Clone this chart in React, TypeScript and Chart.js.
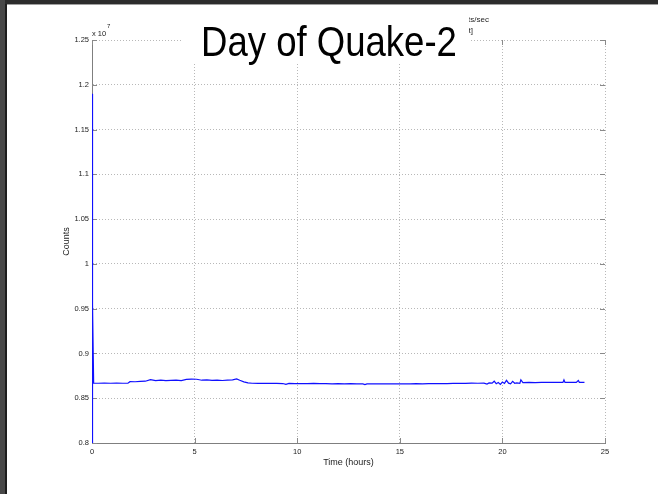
import React, { useEffect, useRef } from "react";
import { Chart, registerables } from "chart.js";

Chart.register(...registerables);

// ---- data (hours since start, raw counts) ----
const hours: number[] = [
  0, 0.01, 0.04, 0.08, 0.3, 0.6, 0.9, 1.2, 1.5, 1.75,
  1.85, 2.1, 2.35, 2.6, 2.85, 3.1, 3.35, 3.6, 3.85, 4.1,
  4.35, 4.6, 4.85, 5.1, 5.35, 5.6, 5.85, 6.1, 6.35, 6.6,
  6.85, 7.05, 7.2, 7.4, 7.6, 7.8, 8.1, 8.4, 8.7, 9.0,
  9.3, 9.45, 9.6, 9.9, 10.2, 10.5, 10.8, 11.1, 11.4, 11.7,
  12.0, 12.3, 12.6, 12.9, 13.2, 13.3, 13.4, 13.7, 14.0, 14.3,
  14.6, 14.9, 15.2, 15.5, 15.8, 16.1, 16.4, 16.7, 17.0, 17.3,
  17.6, 17.9, 18.2, 18.5, 18.8, 19.1, 19.25, 19.35, 19.5, 19.6,
  19.7, 19.8, 19.9, 20.0, 20.1, 20.2, 20.3, 20.4, 20.5, 20.6,
  20.7, 20.85, 20.9, 21.0, 21.3, 21.6, 21.9, 22.2, 22.5, 22.8,
  22.95, 23.0, 23.05, 23.3, 23.6, 23.7, 23.75, 24.0,
];

const counts: number[] = [
  8000000, 11900000, 9550000, 8668000, 8667000, 8668000, 8667000, 8668000, 8667000, 8668000,
  8685000, 8684000, 8688000, 8690000, 8708000, 8697000, 8703000, 8696000, 8699000, 8702000,
  8696000, 8710000, 8714000, 8712000, 8701000, 8704000, 8699000, 8703000, 8698000, 8702000,
  8705000, 8716000, 8700000, 8683000, 8672000, 8667000, 8666000, 8667000, 8665000, 8666000,
  8664000, 8654000, 8665000, 8663000, 8664000, 8663000, 8665000, 8662000, 8663000, 8661000,
  8662000, 8661000, 8662000, 8661000, 8660000, 8652000, 8660000, 8661000, 8660000, 8661000,
  8660000, 8661000, 8660000, 8661000, 8662000, 8661000, 8663000, 8662000, 8664000, 8663000,
  8665000, 8667000, 8666000, 8668000, 8667000, 8669000, 8658000, 8671000, 8668000, 8690000,
  8662000, 8675000, 8655000, 8680000, 8665000, 8700000, 8668000, 8660000, 8688000, 8667000,
  8672000, 8666000, 8705000, 8674000, 8676000, 8675000, 8677000, 8676000, 8677000, 8676000,
  8677000, 8706000, 8677000, 8678000, 8677000, 8698000, 8678000, 8677000,
];

const xTickValues: number[] = [0, 5, 10, 15, 20, 25];
const yMin = 8000000;
const yMax = 12500000;
const yStep = 500000;

const titleText = "Day of Quake-2";
const xTitle = "Time (hours)";
const yTitle = "Counts";
const exponentBase = "x 10";
const exponentPower = "7";
const legendRemnants: string[] = ["counts/sec", "[fit]"];

const FONT = "'Liberation Sans', Arial, Helvetica, sans-serif";

const decorPlugin = {
  id: "decor",
  beforeDraw(chart: any) {
    const { ctx, width, height } = chart;
    ctx.save();
    ctx.fillStyle = "#ffffff";
    ctx.fillRect(0, 0, width, height);
    ctx.fillStyle = "#2c2c2c";
    ctx.fillRect(0, 0, width, 4);
    ctx.fillStyle = "#a0a0a0";
    ctx.fillRect(7, 4, width - 7, 1);
    ctx.fillStyle = "#484848";
    ctx.fillRect(0, 0, 5, height);
    ctx.fillStyle = "#1e1e1e";
    ctx.fillRect(5, 4, 2, height - 4);
    ctx.restore();
  },
  beforeDatasetsDraw(chart: any) {
    const { ctx, chartArea } = chart;
    const xs = chart.scales.x;
    const ys = chart.scales.y;
    ctx.save();
    ctx.strokeStyle = "#8a8a8a";
    ctx.lineWidth = 1;
    ctx.beginPath();
    for (const v of xTickValues) {
      const px = Math.round(xs.getPixelForValue(v)) + 0.5;
      ctx.moveTo(px, chartArea.bottom);
      ctx.lineTo(px, chartArea.bottom - 5);
      ctx.moveTo(px, chartArea.top);
      ctx.lineTo(px, chartArea.top + 5);
    }
    for (let v = yMin; v <= yMax; v += yStep) {
      const py = Math.round(ys.getPixelForValue(v)) + 0.5;
      ctx.moveTo(chartArea.left, py);
      ctx.lineTo(chartArea.left + 5, py);
      ctx.moveTo(chartArea.right, py);
      ctx.lineTo(chartArea.right - 5, py);
    }
    ctx.stroke();
    ctx.restore();
  },
  afterDraw(chart: any) {
    const { ctx, chartArea } = chart;
    ctx.save();
    // exponent label
    ctx.fillStyle = "#222";
    ctx.textBaseline = "alphabetic";
    ctx.textAlign = "left";
    ctx.font = `7.5px ${FONT}`;
    ctx.fillText(exponentBase, chartArea.left, 36);
    ctx.font = `6px ${FONT}`;
    ctx.fillText(exponentPower, chartArea.left + 15, 28);
    // white box behind title
    ctx.fillStyle = "#ffffff";
    ctx.fillRect(183, 8, 286, 55);
    // legend remnants (clipped)
    ctx.save();
    ctx.beginPath();
    ctx.rect(469, 8, 60, 30);
    ctx.clip();
    ctx.fillStyle = "#222";
    ctx.font = `8px ${FONT}`;
    ctx.textAlign = "right";
    ctx.fillText(legendRemnants[0], 489, 22);
    ctx.fillText(legendRemnants[1], 473, 33);
    ctx.restore();
    // title
    ctx.fillStyle = "#000";
    ctx.textAlign = "left";
    ctx.font = `42px ${FONT}`;
    ctx.translate(201, 56);
    ctx.scale(0.87, 1);
    ctx.fillText(titleText, 0, 0);
    ctx.restore();
  },
};

export default function App() {
  const canvasRef = useRef<HTMLCanvasElement | null>(null);

  useEffect(() => {
    const canvas = canvasRef.current;
    if (!canvas) return;
    const points = hours.map((h, i) => ({ x: h, y: counts[i] }));
    const chart = new Chart(canvas, {
      type: "line",
      data: {
        datasets: [
          {
            data: points,
            borderColor: "#1010ff",
            borderWidth: 1.2,
            pointRadius: 0,
            tension: 0,
            fill: false,
          },
        ],
      },
      options: {
        animation: false,
        responsive: false,
        devicePixelRatio: 1,
        layout: { padding: { left: 0, top: 40, right: 53, bottom: 21 } },
        plugins: {
          legend: { display: false },
          title: { display: false },
          tooltip: { enabled: false },
        },
        scales: {
          x: {
            type: "linear",
            min: 0,
            max: 25,
            afterFit: (s: any) => {
              s.height = 30;
            },
            ticks: {
              stepSize: 5,
              padding: 4,
              color: "#222",
              font: { family: FONT, size: 7.5 },
              maxRotation: 0,
            },
            grid: {
              drawTicks: false,
              color: "#b8b8b8",
              lineWidth: 1,
            },
            border: { display: true, color: "#7f7f7f", width: 1, dash: [1, 2] },
            title: {
              display: true,
              text: xTitle,
              color: "#222",
              font: { family: FONT, size: 9 },
              padding: { top: 0, bottom: 4.6 },
            },
          },
          y: {
            type: "linear",
            min: yMin,
            max: yMax,
            afterFit: (s: any) => {
              s.width = 92;
            },
            ticks: {
              stepSize: yStep,
              padding: 3,
              color: "#222",
              font: { family: FONT, size: 7.5 },
              callback: (v: any) => String(Math.round(Number(v) / 1e5) / 100),
            },
            grid: {
              drawTicks: false,
              color: "#b8b8b8",
              lineWidth: 1,
            },
            border: { display: true, color: "#7f7f7f", width: 1, dash: [1, 2] },
            title: {
              display: true,
              text: yTitle,
              color: "#222",
              font: { family: FONT, size: 9 },
              padding: { top: 61.6, bottom: 0 },
            },
          },
        },
      },
      plugins: [decorPlugin],
    });
    return () => chart.destroy();
  }, []);

  return (
    <div style={{ position: "fixed", left: 0, top: 0, width: 658, height: 494 }}>
      <canvas ref={canvasRef} width={658} height={494} style={{ display: "block" }} />
    </div>
  );
}
